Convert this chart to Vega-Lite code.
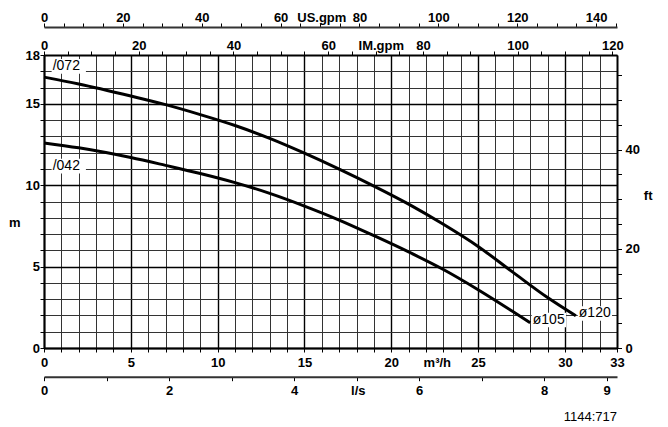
{
  "$schema": "https://vega.github.io/schema/vega-lite/v6.json",
  "width": 573,
  "height": 293,
  "autosize": {"type": "none"},
  "padding": {"left": 44, "top": 55, "right": 51, "bottom": 79},
  "background": "white",
  "title": {"text": "1144:717", "orient": "bottom", "anchor": "end", "frame": "group", "font": "Liberation Sans", "fontSize": 13, "fontWeight": "normal", "color": "black", "offset": 14},
  "config": {
    "view": {"stroke": null},
    "font": "Liberation Sans",
    "axis": {
      "labelFont": "Liberation Sans", "labelFontSize": 13, "labelFontWeight": "bold", "labelColor": "black",
      "titleFont": "Liberation Sans", "titleFontSize": 13, "titleFontWeight": "bold", "titleColor": "black",
      "domainColor": "black", "domainWidth": 2, "tickColor": "black", "tickWidth": 1, "tickSize": 4, "tickCount": 200,
      "labelOverlap": false, "labelFlush": false, "labelBound": false, "grid": false
    }
  },
  "datasets": {
    "curves": [
      {"curve": "/072", "q": 0, "h": 16.64},
      {"curve": "/072", "q": 2, "h": 16.22},
      {"curve": "/072", "q": 5, "h": 15.48},
      {"curve": "/072", "q": 7, "h": 14.95},
      {"curve": "/072", "q": 9, "h": 14.34},
      {"curve": "/072", "q": 11, "h": 13.67},
      {"curve": "/072", "q": 13, "h": 12.88},
      {"curve": "/072", "q": 15, "h": 11.97},
      {"curve": "/072", "q": 17, "h": 10.99},
      {"curve": "/072", "q": 19, "h": 9.95},
      {"curve": "/072", "q": 21, "h": 8.84},
      {"curve": "/072", "q": 23, "h": 7.6},
      {"curve": "/072", "q": 25, "h": 6.24},
      {"curve": "/072", "q": 27, "h": 4.66},
      {"curve": "/072", "q": 29, "h": 3.1},
      {"curve": "/072", "q": 30.63, "h": 1.98},
      {"curve": "/042", "q": 0, "h": 12.6},
      {"curve": "/042", "q": 2, "h": 12.3},
      {"curve": "/042", "q": 5, "h": 11.7},
      {"curve": "/042", "q": 7, "h": 11.22},
      {"curve": "/042", "q": 9, "h": 10.72},
      {"curve": "/042", "q": 11, "h": 10.16},
      {"curve": "/042", "q": 13, "h": 9.5},
      {"curve": "/042", "q": 15, "h": 8.72},
      {"curve": "/042", "q": 17, "h": 7.86},
      {"curve": "/042", "q": 19, "h": 6.9},
      {"curve": "/042", "q": 21, "h": 5.9},
      {"curve": "/042", "q": 23, "h": 4.82},
      {"curve": "/042", "q": 25, "h": 3.58},
      {"curve": "/042", "q": 27, "h": 2.24},
      {"curve": "/042", "q": 28, "h": 1.55}
    ],
    "labels": [
      {"label": "/072", "q": 0.5, "h": 17.3},
      {"label": "/042", "q": 0.5, "h": 11.17},
      {"label": "ø120", "q": 30.8, "h": 2.12},
      {"label": "ø105", "q": 28.15, "h": 1.72}
    ]
  },
  "layer": [
    {
      "layer": [
        {
          "data": {"name": "labels"},
          "mark": {"type": "point", "shape": "M-0.15,-1.05H4.75V1.05H-0.15Z", "size": 196, "filled": true, "fill": "white", "opacity": 1, "strokeWidth": 0},
          "encoding": {
            "x": {
              "field": "q", "type": "quantitative",
              "scale": {"domain": [0, 33], "nice": false, "zero": false},
              "axis": {
                "orient": "bottom", "format": "d",
                "values": [0,1,2,3,4,5,6,7,8,9,10,11,12,13,14,15,16,17,18,19,20,21,22,23,24,25,26,27,28,29,30,31,32,33],
                "labelExpr": "datum.value % 5 == 0 || datum.value == 33 ? datum.label : ''",
                "labelBaseline": "alphabetic", "labelPadding": 14.3, "tickSize": 4,
                "title": "m³/h", "titleX": 392.8, "titleY": 18.3, "titleBaseline": "alphabetic", "titleAlign": "center",
                "grid": true,
                "gridColor": {"condition": {"test": "datum.value % 5 == 0", "value": "black"}, "value": "#333333"},
                "gridWidth": {"condition": {"test": "datum.value % 5 == 0", "value": 1.4}, "value": 1}
              }
            },
            "y": {
              "field": "h", "type": "quantitative",
              "scale": {"domain": [0, 18], "nice": false, "zero": false},
              "axis": {
                "orient": "left", "format": "d",
                "values": [0,1,2,3,4,5,6,7,8,9,10,11,12,13,14,15,16,17,18],
                "labelExpr": "datum.value % 5 == 0 || datum.value == 18 ? datum.label : ''",
                "tickSize": 4, "labelPadding": 0.5,
                "title": "m", "titleAngle": 0, "titleX": -29.7, "titleY": 167, "titleAlign": "center", "titleBaseline": "middle",
                "grid": true,
                "gridColor": {"condition": {"test": "datum.value % 5 == 0", "value": "black"}, "value": "#333333"},
                "gridWidth": {"condition": {"test": "datum.value % 5 == 0", "value": 1.4}, "value": 1}
              }
            }
          }
        },
        {
          "data": {"name": "curves"},
          "mark": {"type": "line", "color": "black", "strokeWidth": 3, "interpolate": "monotone"},
          "encoding": {
            "x": {"field": "q", "type": "quantitative"},
            "y": {"field": "h", "type": "quantitative"},
            "detail": {"field": "curve"}
          }
        },
        {
          "data": {"name": "labels"},
          "mark": {"type": "text", "align": "left", "baseline": "middle", "font": "Liberation Sans", "fontSize": 14, "color": "black"},
          "encoding": {
            "x": {"field": "q", "type": "quantitative"},
            "y": {"field": "h", "type": "quantitative"},
            "text": {"field": "label"}
          }
        }
      ]
    },
    {
      "data": {"name": "curves"},
      "mark": {"type": "point", "opacity": 0},
      "encoding": {
        "x": {
          "field": "q", "type": "quantitative",
          "scale": {"domain": [0, 9.16667], "nice": false, "zero": false},
          "axis": {
            "orient": "bottom", "offset": 28.7, "format": "d",
            "values": [0,0.5,1,1.5,2,2.5,3,3.5,4,4.5,5,5.5,6,6.5,7,7.5,8,8.5,9],
            "labelExpr": "(datum.value == 0 || datum.value == 2 || datum.value == 4 || datum.value == 6 || datum.value == 8 || datum.value == 9) ? datum.label : ''",
            "labelBaseline": "alphabetic", "labelPadding": 13.3, "tickSize": 4,
            "domainColor": "#333333",
            "title": "l/s", "titleX": 313.8, "titleY": 17.3, "titleBaseline": "alphabetic", "titleAlign": "center"
          }
        }
      }
    },
    {
      "data": {"name": "curves"},
      "mark": {"type": "point", "opacity": 0},
      "encoding": {
        "x": {
          "field": "q", "type": "quantitative",
          "scale": {"domain": [0, 120.983], "nice": false, "zero": false},
          "axis": {
            "orient": "top", "offset": 0, "format": "d",
            "values": [0,5,10,15,20,25,30,35,40,45,50,55,60,65,70,75,80,85,90,95,100,105,110,115,120],
            "labelExpr": "datum.value % 20 == 0 ? datum.label : ''",
            "labelBaseline": "alphabetic", "labelPadding": 2, "tickSize": 4,
            "title": "IM.gpm", "titleX": 336.8, "titleY": -6, "titleBaseline": "alphabetic", "titleAlign": "center"
          }
        }
      }
    },
    {
      "data": {"name": "curves"},
      "mark": {"type": "point", "opacity": 0},
      "encoding": {
        "x": {
          "field": "q", "type": "quantitative",
          "scale": {"domain": [0, 145.295], "nice": false, "zero": false},
          "axis": {
            "orient": "top", "offset": 28, "format": "d",
            "values": [0,5,10,15,20,25,30,35,40,45,50,55,60,65,70,75,80,85,90,95,100,105,110,115,120,125,130,135,140,145],
            "labelExpr": "datum.value % 20 == 0 ? datum.label : ''",
            "labelBaseline": "alphabetic", "labelPadding": 2, "tickSize": 4,
            "domainColor": "#333333",
            "title": "US.gpm", "titleX": 277.3, "titleY": -6, "titleBaseline": "alphabetic", "titleAlign": "center"
          }
        }
      }
    },
    {
      "data": {"name": "curves"},
      "mark": {"type": "point", "opacity": 0},
      "encoding": {
        "y": {
          "field": "h", "type": "quantitative",
          "scale": {"domain": [0, 59.055], "nice": false, "zero": false},
          "axis": {
            "orient": "right", "format": "d",
            "values": [0,5,10,15,20,25,30,35,40,45,50,55],
            "labelExpr": "datum.value % 20 == 0 ? datum.label : ''",
            "tickSize": 4.5, "labelPadding": 3.5,
            "title": "ft", "titleAngle": 0, "titleX": 30.7, "titleY": 144.3, "titleAlign": "center", "titleBaseline": "alphabetic"
          }
        }
      }
    }
  ],
  "resolve": {"scale": {"x": "independent", "y": "independent"}}
}
